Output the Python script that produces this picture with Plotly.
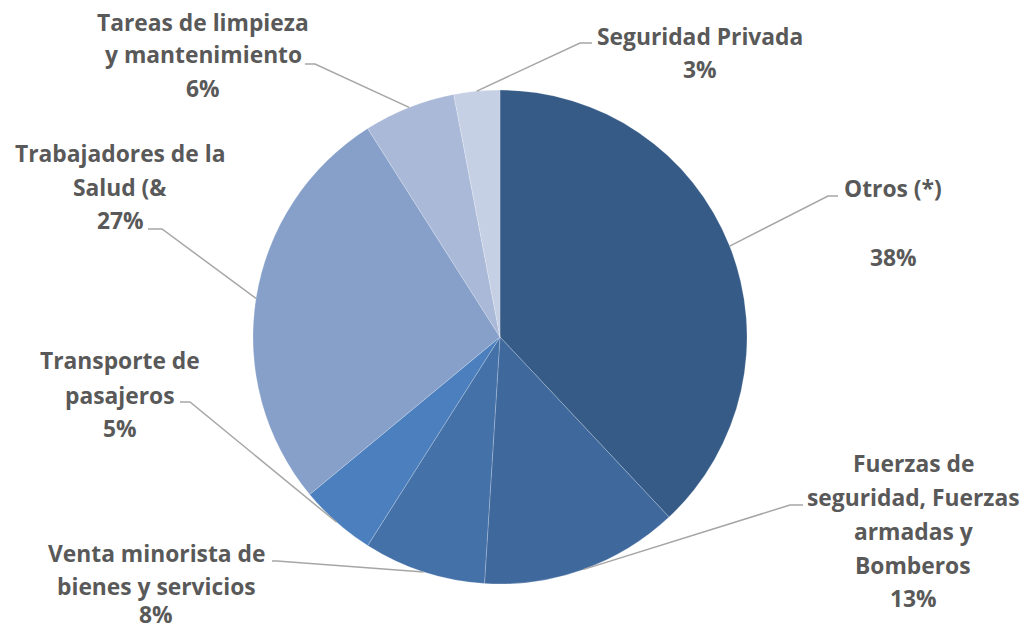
import math
import plotly.graph_objects as go

W, H = 1030, 631

categories = ["Otros (*)", "Fuerzas de seguridad, Fuerzas armadas y Bomberos",
              "Venta minorista de bienes y servicios", "Transporte de pasajeros",
              "Trabajadores de la Salud (&", "Tareas de limpieza y mantenimiento",
              "Seguridad Privada"]
values = [38, 13, 8, 5, 27, 6, 3]
label_lines = [
    ["Otros (*)", "", "38%"],
    ["Fuerzas de", "seguridad, Fuerzas", "armadas y", "Bomberos", "13%"],
    ["Venta minorista de", "bienes y servicios", "8%"],
    ["Transporte de", "pasajeros", "5%"],
    ["Trabajadores de la", "Salud (&", "27%"],
    ["Tareas de limpieza", "y mantenimiento", "6%"],
    ["Seguridad Privada", "3%"],
]
colors = ["#365b87", "#3f699c", "#4571a9", "#4b7fbd", "#86a0ca", "#a9b9d7", "#c6d0e4"]

# layout (pixels)
cx, cy, R = 500, 337, 247
# label block: center x and the center y of each line
label_pos = [
    (893, [189, None, 257]),
    (913, [463, 497, 531, 565, 598]),
    (156, [553, 586, 614]),
    (120, [361, 395, 428]),
    (120, [154, 187, 220]),
    (203, [22, 55, 88]),
    (700, [36, 70]),
]
# leader elbow (x, y) and end x
elbows = [
    (828, 196, 838),
    (790, 505, 803),
    (277, 561, 272),
    (190, 402, 180),
    (162, 229, 148),
    (315, 64, 305),
    (580, 43, 592),
]

def px(x):
    return x / W

def py(y):
    return 1 - y / H

fig = go.Figure()

fig.add_trace(go.Pie(
    labels=categories, values=values, sort=False, direction="clockwise",
    rotation=0, textinfo="none", hoverinfo="label+percent",
    marker=dict(colors=colors, line=dict(color="rgba(255,255,255,0.35)", width=0.6)),
    domain=dict(x=[px(cx - R), px(cx + R)], y=[py(cy + R), py(cy - R)]),
    showlegend=False,
))

shapes = []
annotations = []
total = sum(values)
cum = 0
for i, v in enumerate(values):
    mid = (cum + v / 2) / total * 2 * math.pi
    cum += v
    ex = cx + R * math.sin(mid)
    ey = cy - R * math.cos(mid)
    bx, by, endx = elbows[i]
    path = f"M {px(ex)},{py(ey)} L {px(bx)},{py(by)} L {px(endx)},{py(by)}"
    shapes.append(dict(type="path", xref="paper", yref="paper", path=path,
                       line=dict(color="#a6a6a6", width=1.5)))
    lx, ys = label_pos[i]
    for t, yy in zip(label_lines[i], ys):
        if not t or yy is None:
            continue
        annotations.append(dict(
            x=px(lx), y=py(yy), xref="paper", yref="paper", text=f"<b>{t}</b>",
            showarrow=False, xanchor="center", yanchor="middle",
            font=dict(family="Open Sans", size=22.8, color="#595959"),
        ))

fig.update_layout(
    width=W, height=H, margin=dict(l=0, r=0, t=0, b=0),
    paper_bgcolor="white", plot_bgcolor="white",
    shapes=shapes, annotations=annotations,
)

fig.write_html("out.html", config={"displayModeBar": False})

# remove default page margin so the figure sits at the window origin
with open("out.html", "r", encoding="utf-8") as f:
    html = f.read()
html = html.replace("<head>", "<head><style>html,body{margin:0;padding:0;overflow:hidden;}</style>", 1)
with open("out.html", "w", encoding="utf-8") as f:
    f.write(html)
